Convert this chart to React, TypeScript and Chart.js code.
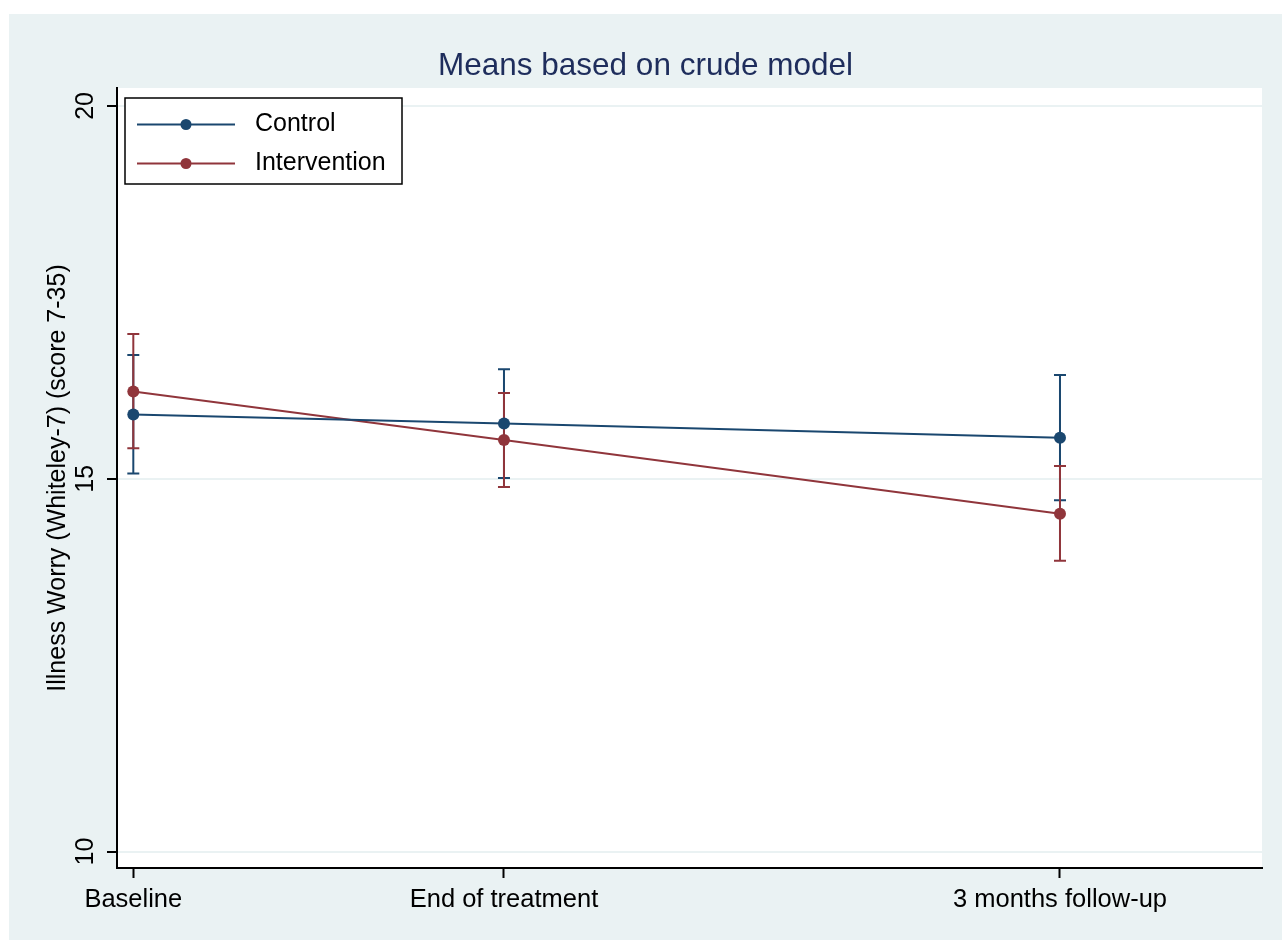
import React, { useEffect, useRef } from 'react';
import { Chart, registerables } from 'chart.js';
Chart.register(...registerables);

const FONT = '"Liberation Sans", Arial, Helvetica, sans-serif';

const categories = ['Baseline', 'End of treatment', '3 months follow-up'];
const timeWeeks = [0, 8, 20];
const yTicks = [10, 15, 20];

const controlMean = [15.86, 15.74, 15.55];
const controlLower = [15.07, 15.01, 14.71];
const controlUpper = [16.66, 16.47, 16.39];

const interventionMean = [16.17, 15.52, 14.53];
const interventionLower = [15.41, 14.89, 13.9];
const interventionUpper = [16.94, 16.15, 15.17];

const CONTROL_COLOR = '#1a476f';
const INTERVENTION_COLOR = '#90353b';
const PANEL_BG = '#eaf2f3';
const TITLE = 'Means based on crude model';
const Y_TITLE = 'Illness Worry (Whiteley-7) (score 7-35)';

export default function App() {
  const ref = useRef<HTMLCanvasElement>(null);

  useEffect(() => {
    const canvas = ref.current;
    if (!canvas) return;

    const bgPlugin = {
      id: 'bgPanel',
      beforeDraw(chart: any) {
        const { ctx, chartArea } = chart;
        ctx.save();
        ctx.fillStyle = '#ffffff';
        ctx.fillRect(0, 0, chart.width, chart.height);
        ctx.fillStyle = PANEL_BG;
        ctx.fillRect(9, 14, chart.width - 9, chart.height - 14);
        ctx.fillStyle = '#ffffff';
        ctx.fillRect(chartArea.left, chartArea.top, chartArea.right - chartArea.left, chartArea.bottom - chartArea.top);
        ctx.fillStyle = '#1e2d5c';
        ctx.font = `31.5px ${FONT}`;
        ctx.textAlign = 'center';
        ctx.textBaseline = 'middle';
        ctx.fillText(TITLE, (9 + chart.width) / 2, 66);
        ctx.restore();
      },
    };

    const errorBarPlugin = {
      id: 'errorBars',
      beforeDatasetsDraw(chart: any) {
        const { ctx } = chart;
        const xs = chart.scales.x;
        const ys = chart.scales.y;
        const groups = [
          { lower: controlLower, upper: controlUpper, color: CONTROL_COLOR },
          { lower: interventionLower, upper: interventionUpper, color: INTERVENTION_COLOR },
        ];
        ctx.save();
        ctx.lineWidth = 2;
        groups.forEach((g) => {
          ctx.strokeStyle = g.color;
          timeWeeks.forEach((t, i) => {
            const x = xs.getPixelForValue(t);
            const y1 = ys.getPixelForValue(g.lower[i]);
            const y2 = ys.getPixelForValue(g.upper[i]);
            ctx.beginPath();
            ctx.moveTo(x, y1);
            ctx.lineTo(x, y2);
            ctx.moveTo(x - 6, y1);
            ctx.lineTo(x + 6, y1);
            ctx.moveTo(x - 6, y2);
            ctx.lineTo(x + 6, y2);
            ctx.stroke();
          });
        });
        ctx.restore();
      },
    };

    const legendPlugin = {
      id: 'boxLegend',
      afterDatasetsDraw(chart: any) {
        const { ctx, chartArea } = chart;
        const left = chartArea.left + 8;
        const top = chartArea.top + 10;
        const w = 277;
        const h = 86;
        ctx.save();
        ctx.fillStyle = '#ffffff';
        ctx.fillRect(left, top, w, h);
        ctx.strokeStyle = '#000000';
        ctx.lineWidth = 1.5;
        ctx.strokeRect(left, top, w, h);
        const items = chart.data.datasets.map((d: any) => ({ label: d.label, color: d.borderColor }));
        items.forEach((it: any, i: number) => {
          const cy = top + 26.5 + i * 39;
          ctx.strokeStyle = it.color;
          ctx.lineWidth = 2;
          ctx.beginPath();
          ctx.moveTo(left + 12, cy);
          ctx.lineTo(left + 110, cy);
          ctx.stroke();
          ctx.fillStyle = it.color;
          ctx.beginPath();
          ctx.arc(left + 61, cy, 5.5, 0, Math.PI * 2);
          ctx.fill();
          ctx.fillStyle = '#000000';
          ctx.font = `25px ${FONT}`;
          ctx.textAlign = 'left';
          ctx.textBaseline = 'middle';
          ctx.fillText(it.label, left + 130, cy);
        });
        ctx.restore();
      },
    };

    const chart = new Chart(canvas, {
      type: 'line',
      data: {
        datasets: [
          {
            label: 'Control',
            data: timeWeeks.map((t, i) => ({ x: t, y: controlMean[i] })),
            borderColor: CONTROL_COLOR,
            backgroundColor: CONTROL_COLOR,
            borderWidth: 2,
            pointRadius: 6,
            pointBorderWidth: 0,
            tension: 0,
          },
          {
            label: 'Intervention',
            data: timeWeeks.map((t, i) => ({ x: t, y: interventionMean[i] })),
            borderColor: INTERVENTION_COLOR,
            backgroundColor: INTERVENTION_COLOR,
            borderWidth: 2,
            pointRadius: 6,
            pointBorderWidth: 0,
            tension: 0,
          },
        ],
      },
      options: {
        responsive: false,
        animation: false,
        devicePixelRatio: 1,
        layout: { padding: { left: 0, top: 88, right: 20, bottom: 0 } },
        plugins: {
          legend: { display: false },
          title: { display: false },
          tooltip: { enabled: false },
        },
        scales: {
          x: {
            type: 'linear',
            min: -0.352,
            max: 24.36,
            afterBuildTicks: (scale: any) => {
              scale.ticks = timeWeeks.map((v) => ({ value: v }));
            },
            afterFit: (scale: any) => {
              scale.height = 72;
            },
            grid: {
              display: true,
              drawOnChartArea: false,
              drawTicks: true,
              tickLength: 10,
              tickColor: '#000000',
              tickWidth: 2,
            },
            border: { display: true, color: '#000000', width: 2 },
            ticks: {
              autoSkip: false,
              maxRotation: 0,
              minRotation: 0,
              padding: 7,
              color: '#000000',
              font: { family: FONT, size: 25.5 },
              callback: (v: any) => {
                const idx = timeWeeks.indexOf(Number(v));
                return idx >= 0 ? categories[idx] : '';
              },
            },
          },
          y: {
            type: 'linear',
            min: 9.78,
            max: 20.24,
            afterBuildTicks: (scale: any) => {
              scale.ticks = yTicks.map((v) => ({ value: v }));
            },
            afterFit: (scale: any) => {
              scale.width = 117;
            },
            grid: {
              display: true,
              drawOnChartArea: true,
              color: PANEL_BG,
              lineWidth: 2,
              drawTicks: true,
              tickLength: 10,
              tickColor: '#000000',
              tickWidth: 2,
            },
            border: { display: true, color: '#000000', width: 2 },
            title: {
              display: true,
              text: Y_TITLE,
              color: '#000000',
              font: { family: FONT, size: 25 },
              padding: { top: 43, bottom: 0 },
            },
            ticks: {
              minRotation: 90,
              maxRotation: 90,
              crossAlign: 'center',
              padding: 7,
              color: '#000000',
              font: { family: FONT, size: 25 },
              callback: (v: any) => String(v),
            },
          },
        },
      },
      plugins: [bgPlugin, errorBarPlugin, legendPlugin],
    } as any);

    return () => {
      chart.destroy();
    };
  }, []);

  return (
    <div style={{ position: 'absolute', left: 0, top: 0, width: 1282, height: 940 }}>
      <canvas ref={ref} width={1282} height={940} style={{ display: 'block' }} />
    </div>
  );
}
